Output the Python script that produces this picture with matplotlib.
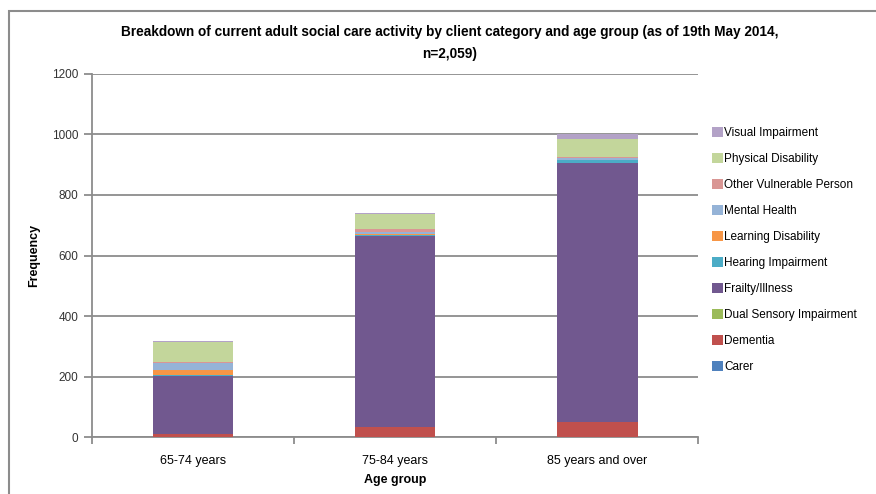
import matplotlib
matplotlib.use('Agg')
import matplotlib.pyplot as plt
import numpy as np
from matplotlib.patches import Rectangle

plt.rcParams['font.family'] = ['Liberation Sans', 'DejaVu Sans']

# client categories, bottom of the stack first
categorias = ['Carer', 'Dementia', 'Dual Sensory Impairment', 'Frailty/Illness',
              'Hearing Impairment', 'Learning Disability', 'Mental Health',
              'Other Vulnerable Person', 'Physical Disability', 'Visual Impairment']
grupos = ['65-74 years', '75-84 years', '85 years and over']

carer = [1, 1, 1]
dementia = [10, 33, 50]
dual_sensory = [0, 1, 1]
frailty = [192, 629, 854]
hearing = [2, 3, 8]
learning = [17, 5, 2]
mental_health = [22, 6, 6]
other_vulnerable = [5, 10, 2]
physical = [66, 50, 61]
visual = [3, 3, 16]

series = [carer, dementia, dual_sensory, frailty, hearing, learning,
          mental_health, other_vulnerable, physical, visual]
colores = ['#4f81bd', '#c0504d', '#9bbb59', '#71588f', '#4bacc6', '#f79646',
           '#95b3d7', '#d99694', '#c3d69b', '#b3a2c7']

fig = plt.figure(figsize=(8.76, 4.94), dpi=100)
ax = fig.add_axes([0.105, 0.1145, 0.692, 0.7365])

# chart area border
fig.patches.append(Rectangle((9 / 876, -0.1), 1.2, 1 - 11 / 494 + 0.1,
                             transform=fig.transFigure, fill=False,
                             edgecolor='#8c8c8c', linewidth=1.5))

x = np.arange(len(grupos))
base = np.zeros(len(grupos))
for nombre, valores, color in zip(categorias, series, colores):
    ax.bar(x, valores, 0.4, bottom=base, color=color, label=nombre, zorder=3)
    base += np.array(valores)

ax.set_xlim(-0.5, len(grupos) - 0.5)
ax.set_ylim(0, 1200)
ax.set_yticks(range(0, 1201, 200))
ax.yaxis.grid(True, color='#8c8c8c', linewidth=1.3, zorder=0)
ax.set_xticks(x)
ax.set_xticklabels(grupos, fontsize=9)
ax.set_xticks(np.arange(-0.5, len(grupos)), minor=True)
ax.tick_params(axis='x', which='major', length=0, pad=13)
ax.tick_params(axis='x', which='minor', length=5, color='#8c8c8c', width=1.3)
ax.tick_params(axis='y', length=6, color='#8c8c8c', width=1.3, labelsize=8.5,
               labelcolor='#333333', pad=4)
for lado in ['top', 'right']:
    ax.spines[lado].set_visible(False)
for lado in ['left', 'bottom']:
    ax.spines[lado].set_color('#8c8c8c')
    ax.spines[lado].set_linewidth(1.3)

ax.set_xlabel('Age group', fontsize=9, fontweight='bold', labelpad=5)
ax.set_ylabel('Frequency', fontsize=9, fontweight='bold', labelpad=8)

fig.text(0.513, 0.935, 'Breakdown of current adult social care activity by client category and age group (as of 19th May 2014,',
         ha='center', va='center', fontsize=9.8, fontweight='bold')
fig.text(0.513, 0.89, 'n=2,059)', ha='center', va='center', fontsize=9.8, fontweight='bold')

handles, labels = ax.get_legend_handles_labels()
ax.legend(handles[::-1], labels[::-1], loc='upper left', bbox_to_anchor=(1.015, 0.867),
          frameon=False, fontsize=8.5, handlelength=0.9, handleheight=0.9,
          handletextpad=0.15, labelspacing=1.19, borderaxespad=0)

plt.savefig('out.png', dpi=100)
